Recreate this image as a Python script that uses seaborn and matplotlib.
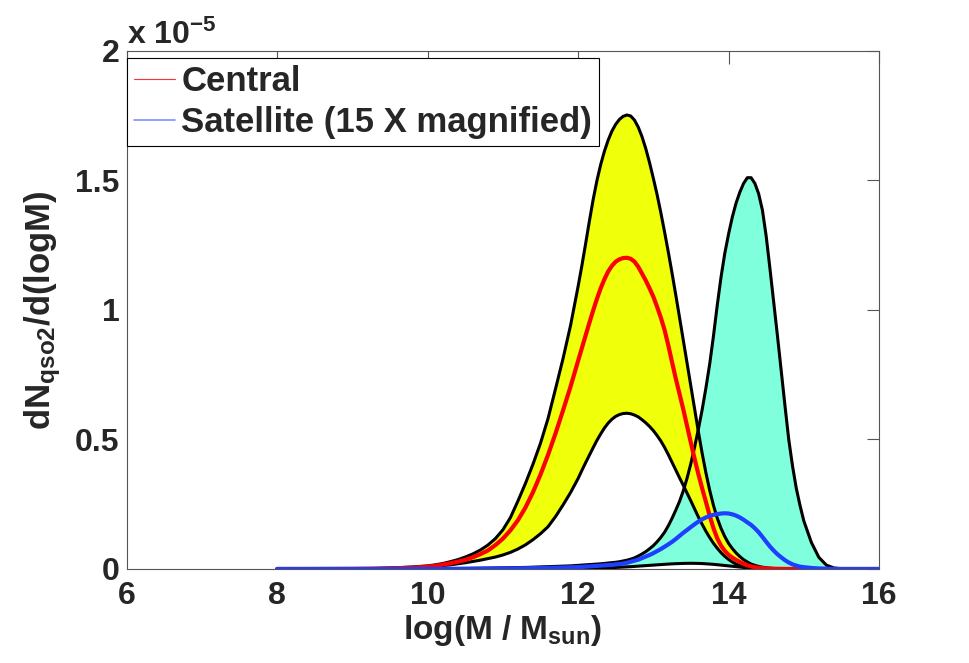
#!/usr/bin/env python3
import matplotlib
matplotlib.use("Agg")
import matplotlib.pyplot as plt
from matplotlib.lines import Line2D
from matplotlib.ticker import FuncFormatter
import pandas as pd
import seaborn as sns

# log halo mass grid
log_mass = [8.0, 8.5, 9.0, 9.3, 9.6, 9.8,
            10.0, 10.1, 10.2, 10.3, 10.4, 10.5, 10.6, 10.7, 10.8, 10.9,
            11.0, 11.1, 11.2, 11.3, 11.4, 11.5, 11.6, 11.7, 11.8, 11.9,
            12.0, 12.05, 12.1, 12.15, 12.2, 12.25, 12.3, 12.35, 12.4, 12.45,
            12.5, 12.55, 12.6, 12.65, 12.7, 12.75, 12.8, 12.85, 12.9, 12.95,
            13.0, 13.05, 13.1, 13.15, 13.2, 13.25, 13.3, 13.35, 13.4, 13.45,
            13.5, 13.55, 13.6, 13.65, 13.7, 13.75, 13.8, 13.85, 13.9, 13.95,
            14.0, 14.05, 14.1, 14.15, 14.2, 14.25, 14.3, 14.35, 14.4, 14.45,
            14.5, 14.55, 14.6, 14.65, 14.7, 14.75, 14.8, 14.85, 14.9, 14.95,
            15.0, 15.1, 15.2, 15.3, 15.4, 15.5, 15.6, 15.8, 16.0]

# dN/dlogM in units of 1e-5
central_hi = [0, 0.0003, 0.001, 0.002, 0.005, 0.008,
              0.012, 0.016, 0.021, 0.028, 0.036, 0.046, 0.058, 0.073, 0.092, 0.117,
              0.151, 0.198, 0.262, 0.330, 0.404, 0.485, 0.580, 0.695, 0.812, 0.940,
              1.090, 1.170, 1.255, 1.342, 1.425, 1.498, 1.560, 1.612, 1.655, 1.690,
              1.716, 1.735, 1.747, 1.752, 1.748, 1.732, 1.705, 1.668, 1.622, 1.568,
              1.508, 1.445, 1.375, 1.300, 1.222, 1.140, 1.055, 0.968, 0.880, 0.792,
              0.704, 0.616, 0.528, 0.445, 0.370, 0.303, 0.245, 0.196, 0.157, 0.125,
              0.099, 0.079, 0.062, 0.048, 0.036, 0.027, 0.019, 0.014, 0.010, 0.007,
              0.005, 0.003, 0.002, 0.0015, 0.001, 0.0007, 0.0005, 0.0003, 0.0002, 0.0001,
              0, 0, 0, 0, 0, 0, 0, 0, 0]
central_mid = [0, 0.0002, 0.0007, 0.0015, 0.003, 0.005,
               0.009, 0.012, 0.017, 0.022, 0.028, 0.035, 0.045, 0.057, 0.071, 0.092,
               0.117, 0.149, 0.188, 0.237, 0.296, 0.364, 0.440, 0.523, 0.612, 0.704,
               0.803, 0.852, 0.901, 0.950, 0.997, 1.042, 1.083, 1.118, 1.148, 1.170,
               1.186, 1.195, 1.200, 1.201, 1.197, 1.186, 1.166, 1.140, 1.113, 1.083,
               1.051, 1.012, 0.970, 0.922, 0.862, 0.797, 0.733, 0.674, 0.614, 0.550,
               0.486, 0.424, 0.365, 0.310, 0.258, 0.205, 0.157, 0.118, 0.090, 0.070,
               0.055, 0.044, 0.035, 0.027, 0.020, 0.014, 0.010, 0.007, 0.005, 0.0035,
               0.0025, 0.0017, 0.001, 0.0007, 0.0005, 0.0003, 0.0002, 0.0001, 0, 0,
               0, 0, 0, 0, 0, 0, 0, 0, 0]
central_lo = [0, 0.0001, 0.0005, 0.001, 0.003, 0.005,
              0.008, 0.010, 0.013, 0.016, 0.020, 0.024, 0.029, 0.034, 0.040, 0.046,
              0.054, 0.064, 0.077, 0.093, 0.113, 0.136, 0.163, 0.202, 0.247, 0.295,
              0.349, 0.380, 0.410, 0.439, 0.468, 0.496, 0.521, 0.544, 0.563, 0.578,
              0.589, 0.596, 0.600, 0.601, 0.599, 0.594, 0.587, 0.576, 0.564, 0.550,
              0.534, 0.515, 0.494, 0.469, 0.441, 0.411, 0.381, 0.351, 0.322, 0.292,
              0.262, 0.231, 0.200, 0.172, 0.145, 0.121, 0.099, 0.080, 0.063, 0.049,
              0.037, 0.027, 0.019, 0.013, 0.009, 0.006, 0.004, 0.0025, 0.0015, 0.001,
              0.0006, 0.0003, 0.0001, 0, 0, 0, 0, 0, 0, 0,
              0, 0, 0, 0, 0, 0, 0, 0, 0]
sat_hi = [0, 0, 0, 0, 0.0002, 0.0004,
          0.0007, 0.001, 0.0012, 0.0015, 0.0018, 0.002, 0.0025, 0.003, 0.0035, 0.004,
          0.0045, 0.005, 0.0055, 0.006, 0.007, 0.008, 0.009, 0.010, 0.011, 0.012,
          0.014, 0.015, 0.016, 0.017, 0.018, 0.019, 0.020, 0.0215, 0.023, 0.0245,
          0.026, 0.028, 0.031, 0.034, 0.038, 0.043, 0.050, 0.058, 0.067, 0.078,
          0.090, 0.105, 0.122, 0.142, 0.167, 0.196, 0.228, 0.262, 0.303, 0.352,
          0.408, 0.472, 0.541, 0.616, 0.700, 0.792, 0.900, 1.018, 1.126, 1.218,
          1.292, 1.358, 1.412, 1.454, 1.488, 1.510, 1.510, 1.488, 1.448, 1.385,
          1.285, 1.160, 1.030, 0.900, 0.765, 0.630, 0.500, 0.398, 0.312, 0.245,
          0.186, 0.103, 0.045, 0.015, 0.004, 0.001, 0, 0, 0]
sat_mid = [0, 0, 0.0001, 0.0002, 0.0003, 0.0004,
           0.0005, 0.0006, 0.0007, 0.0008, 0.0009, 0.001, 0.0012, 0.0014, 0.0016, 0.0018,
           0.002, 0.0023, 0.0026, 0.003, 0.0035, 0.004, 0.0045, 0.005, 0.0057, 0.0065,
           0.0075, 0.008, 0.009, 0.010, 0.011, 0.012, 0.013, 0.014, 0.015, 0.016,
           0.0175, 0.019, 0.021, 0.024, 0.028, 0.032, 0.036, 0.042, 0.048, 0.054,
           0.061, 0.069, 0.077, 0.086, 0.095, 0.105, 0.116, 0.128, 0.140, 0.151,
           0.162, 0.173, 0.183, 0.192, 0.199, 0.205, 0.209, 0.212, 0.214, 0.215,
           0.214, 0.211, 0.206, 0.199, 0.190, 0.180, 0.170, 0.157, 0.142, 0.124,
           0.105, 0.087, 0.071, 0.057, 0.045, 0.034, 0.025, 0.018, 0.013, 0.009,
           0.007, 0.004, 0.002, 0.001, 0, 0, 0, 0, 0]
sat_lo = [0, 0, 0, 0, 0, 0,
          0, 0, 0, 0, 0, 0, 0, 0, 0, 0,
          0, 0, 0, 0, 0.0001, 0.0002, 0.0003, 0.0005, 0.0007, 0.001,
          0.0014, 0.0017, 0.002, 0.0023, 0.0027, 0.0031, 0.0035, 0.004, 0.0045, 0.0052,
          0.006, 0.0067, 0.0075, 0.0082, 0.009, 0.010, 0.011, 0.012, 0.013, 0.014,
          0.015, 0.016, 0.017, 0.018, 0.019, 0.0198, 0.0205, 0.021, 0.0215, 0.0218,
          0.022, 0.0218, 0.0215, 0.021, 0.020, 0.019, 0.018, 0.0165, 0.015, 0.0135,
          0.012, 0.0105, 0.009, 0.0075, 0.006, 0.0047, 0.0035, 0.0027, 0.002, 0.0015,
          0.001, 0.0007, 0.0005, 0.0003, 0.0002, 0.0001, 0, 0, 0, 0,
          0, 0, 0, 0, 0, 0, 0, 0, 0]

x_ticks = [6, 8, 10, 12, 14, 16]
y_ticks = [0, 0.5, 1, 1.5, 2]
legend_labels = ["Central", "Satellite (15 X magnified)"]

sns.set_style("white")
plt.rcParams["font.family"] = ["Liberation Sans", "DejaVu Sans"]
plt.rcParams["font.weight"] = "bold"
plt.rcParams["axes.labelweight"] = "bold"
plt.rcParams["mathtext.fontset"] = "custom"
plt.rcParams["mathtext.rm"] = "Liberation Sans:bold"
plt.rcParams["mathtext.it"] = "Liberation Sans:bold"
plt.rcParams["mathtext.bf"] = "Liberation Sans:bold"
plt.rcParams["mathtext.default"] = "rm"

df = pd.DataFrame({"logm": log_mass,
                   "cen_hi": central_hi, "cen_mid": central_mid, "cen_lo": central_lo,
                   "sat_hi": sat_hi, "sat_mid": sat_mid, "sat_lo": sat_lo})

fig = plt.figure(figsize=(9.7, 6.63), dpi=100)
ax = fig.add_axes([0.1306, 0.1418, 0.7756, 0.7817])

# shaded bands: satellite under central
ax.fill_between(df["logm"], df["sat_lo"], df["sat_hi"], color="#7FFFDC", lw=0, zorder=1)
ax.fill_between(df["logm"], df["cen_lo"], df["cen_hi"], color="#F0FF0A", lw=0, zorder=2)

for col in ["sat_lo", "sat_hi", "cen_lo", "cen_hi"]:
    sns.lineplot(data=df, x="logm", y=col, color="black", lw=2.2,
                 estimator=None, ax=ax, zorder=3)
sns.lineplot(data=df, x="logm", y="cen_mid", color="#FF0000", lw=3,
             estimator=None, ax=ax, zorder=4)
sns.lineplot(data=df, x="logm", y="sat_mid", color="#1F3FFF", lw=3,
             estimator=None, ax=ax, zorder=5)

ax.set_xlim(6, 16)
ax.set_ylim(0, 2)
ax.set_xticks(x_ticks)
ax.set_yticks(y_ticks)
ax.yaxis.set_major_formatter(FuncFormatter(lambda v, p: "%g" % v))
ax.tick_params(direction="in", length=9, width=0.8, color="#555555",
               top=True, right=True, labelsize=23)
ax.tick_params(axis="x", pad=9)
ax.tick_params(axis="y", pad=5)
for sp in ax.spines.values():
    sp.set_visible(True)
    sp.set_color("#555555")
    sp.set_linewidth(0.8)

ax.set_xlabel(r"log(M / M$_{sun}$)", fontsize=24, labelpad=1)
ax.set_ylabel(r"dN$_{qso2}$/d(logM)", fontsize=25, labelpad=9)

ax.annotate(r"x 10$^{-5}$", xy=(0, 1), xycoords="axes fraction",
            xytext=(0, 5), textcoords="offset points",
            fontsize=23, ha="left", va="baseline")

handles = [Line2D([], [], color="#FF3030", lw=0.8),
           Line2D([], [], color="#8090FF", lw=1.2)]
leg = ax.legend(handles, legend_labels, loc="upper left",
                bbox_to_anchor=(0, 1 - 7 / 518.3), borderaxespad=0,
                fontsize=25, frameon=True, fancybox=False, framealpha=1,
                edgecolor="black", handlelength=1.2, handletextpad=0.17,
                borderpad=0.2, labelspacing=0.25)
leg.get_frame().set_linewidth(0.8)
leg.set_zorder(10)

fig.savefig("out.png", dpi=100)
